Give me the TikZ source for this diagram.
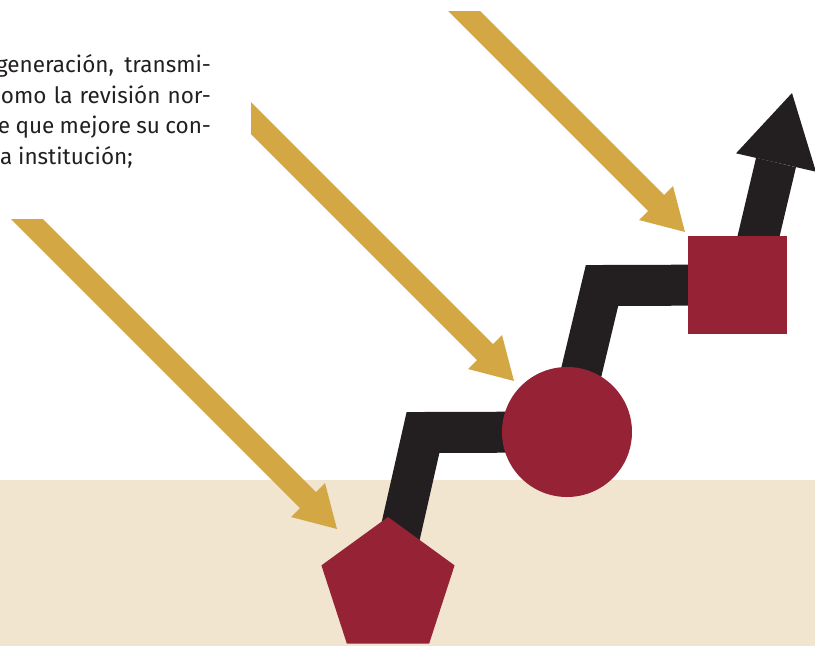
\documentclass[tikz,border=0pt]{standalone}
\usepackage{fontspec}
\setmainfont{Fira Sans}
\usepackage{tikz}
\usetikzlibrary{calc}
\usetikzlibrary{shapes}
\definecolor{gold}{HTML}{D4A745}
\definecolor{wine}{HTML}{962335}
\definecolor{ink}{HTML}{231F20}
\definecolor{sand}{HTML}{F1E5D0}
\tikzset{
  txt/.style={inner sep=0pt, outer sep=0pt, text=ink, font=\fontsize{22.5}{31}\selectfont},
  wineshape/.style={fill=wine, draw=none, inner sep=0pt, outer sep=0pt},
  inkline/.style={draw=ink, line width=41pt, line join=miter}
}
\newcommand{\goldarrow}[4]{\fill[gold] ( #1 ) -- ( #2 ) -- ( #3 - 21 , #4 - 37 ) -- ( #3 - 12 , #4 - 46 ) -- ( #3 , #4 ) -- ( #3 - 46 , #4 - 12 ) -- ( #3 - 37 , #4 - 21 ) -- cycle;}
\newcommand{\textline}[4]{\node[txt, anchor=base east] (#1) at ( 211 , #2 ) {\makebox[#3pt][s]{#4}};}

\begin{document}
\begin{tikzpicture}[x=1pt,y=-1pt]

        \useasboundingbox (0,0) rectangle (815,646);

        % ground
        \fill[sand] (0,480) rectangle (815,646);

        % text
        \textline{t1}{72.5}{215}{generación, transmi-}
        \textline{t2}{103}{210}{omo la revisión nor-}
        \textline{t3}{133.5}{213}{e que mejore su con-}
        \node[txt, anchor=base west] (t4) at ( 0 , 164 ) {a institución;};

        % gold arrows
        \goldarrow{448,11}{480,11}{685}{232}
        \goldarrow{251,134}{251,102}{514}{381}
        \goldarrow{11,219}{43,219}{337}{529}

        % path
        \coordinate (p1) at (388,587);
        \coordinate (p2) at (567,432);
        \coordinate (p3) at (737.5,285);
        \coordinate (k1) at (423,432.5);
        \coordinate (k2) at (602,285.5);
        \coordinate (k3) at (747,285);
        \coordinate (hb) at (776,162.5);
        \coordinate (tip) at (792,93);

        \draw[inkline] (p1) -- (k1) -- (p2) -- (k2) -- (p3) -- (k3) -- (hb);
        \fill[ink] ($(hb)!41pt!90:(tip)$) -- (tip) -- ($(hb)!41pt!-90:(tip)$) -- cycle;

        % shapes
        \node[wineshape, regular polygon, regular polygon sides=5, minimum size=140pt] (pent) at (p1) {};
        \node[wineshape, circle, minimum size=130pt] (circ) at (p2) {};
        \node[wineshape, rectangle, minimum width=99pt, minimum height=98pt] (sq) at (p3) {};

    \end{tikzpicture}
\end{document}
